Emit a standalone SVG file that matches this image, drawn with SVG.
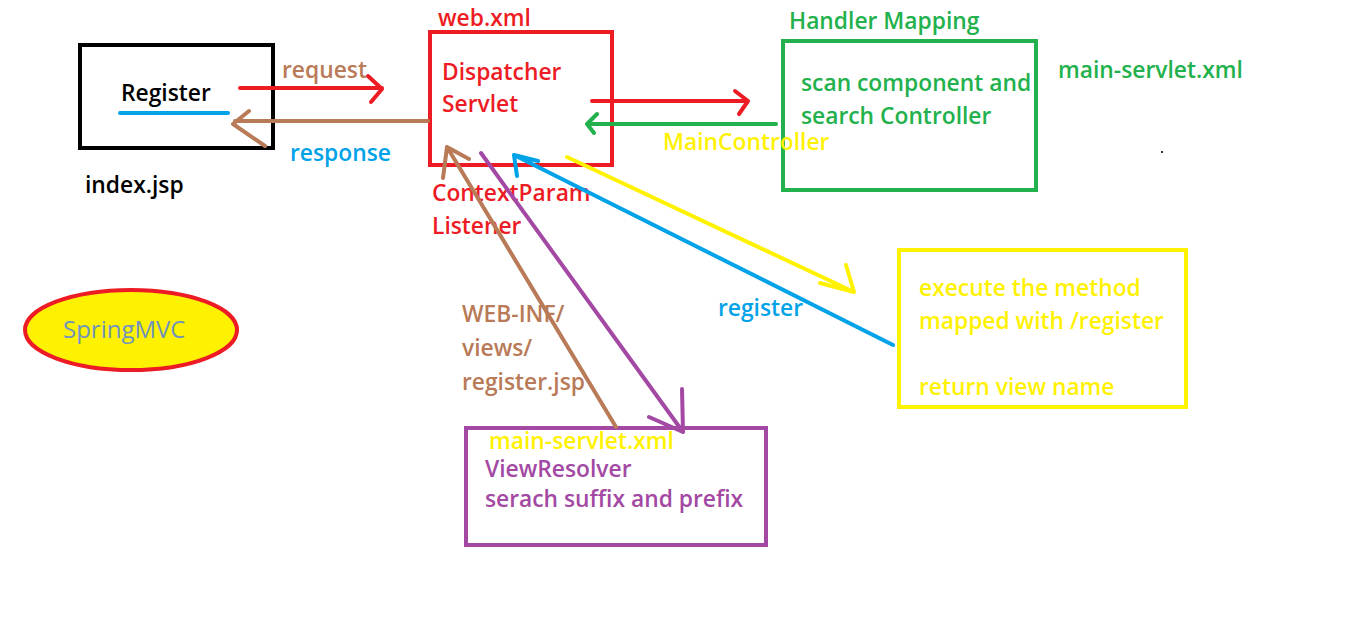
<svg xmlns="http://www.w3.org/2000/svg" width="1360" height="621" viewBox="0 0 1360 621">
<style>
text{font-family:"Open Sans","Noto Sans","DejaVu Sans",sans-serif;font-size:22.8px;font-weight:600}
.box{fill:none;stroke-width:4}
.ln{fill:none;stroke-width:4;stroke-linecap:round;stroke-linejoin:round}
.red{fill:#ed1c24}.grn{fill:#22b14c}.brn{fill:#b97a57}.blu{fill:#00a2e8}.yel{fill:#fff200}.pur{fill:#a349a4}.blk{fill:#000}
</style>
<rect width="1360" height="621" fill="#fff"/>
<g id="register-node">
<rect class="box" x="80" y="45" width="193" height="103" stroke="#000"/>
<text class="blk" x="121" y="101">Register</text>
<line x1="120" y1="113" x2="228" y2="113" stroke="#00a2e8" stroke-width="4" stroke-linecap="round"/>
<text class="blk" x="85" y="193">index.jsp</text>
</g>
<g id="dispatcher-node">
<rect class="box" x="430" y="32" width="182" height="133" stroke="#ed1c24"/>
<text class="red" x="438" y="26">web.xml</text>
<text class="red" x="442" y="80">Dispatcher</text>
<text class="red" x="442" y="112">Servlet</text>
</g>
<g id="handler-node">
<rect class="box" x="783" y="41" width="253" height="149" stroke="#22b14c"/>
<text class="grn" x="789" y="29">Handler Mapping</text>
<text class="grn" x="801" y="91">scan component and</text>
<text class="grn" x="801" y="124">search Controller</text>
<text class="grn" x="1058" y="78">main-servlet.xml</text>
<rect x="1161" y="151" width="2" height="2" fill="#333"/>
</g>
<g id="controller-node">
<rect class="box" x="899" y="250" width="287" height="157" stroke="#fff200"/>
<text class="yel" x="919" y="296">execute the method</text>
<text class="yel" x="919" y="329">mapped with /register</text>
<text class="yel" x="919" y="395">return view name</text>
</g>
<g id="viewresolver-node">
<rect class="box" x="466" y="428" width="300" height="117" stroke="#a349a4"/>
<text class="yel" x="489" y="449">main-servlet.xml</text>
<text class="pur" x="485" y="477">ViewResolver</text>
<text class="pur" x="485" y="507">serach suffix and prefix</text>
</g>
<g id="springmvc-node">
<ellipse cx="131" cy="330" rx="106" ry="40" fill="#fff200" stroke="#ed1c24" stroke-width="4"/>
<text x="63" y="338" fill="#7092be" style="font-size:24px;font-weight:400">SpringMVC</text>
</g>
<g id="connectors">
<path class="ln" stroke="#ed1c24" d="M240 88H382M368 76L382 89L371 102"/>
<text class="brn" x="282" y="78">request</text>
<path class="ln" stroke="#b97a57" d="M428 121H235M249 111L233 124L265 146"/>
<text class="blu" x="290" y="161">response</text>
<path class="ln" stroke="#ed1c24" d="M592 101H747M735 91L748 101L739 114"/>
<path class="ln" stroke="#22b14c" d="M776 124H588M597 114L587 124L594 133"/>
<text class="yel" x="663" y="150">MainController</text>
<text class="red" x="432" y="201">ContextParam</text>
<text class="red" x="432" y="234">Listener</text>
<path class="ln" stroke="#b97a57" d="M616 427L447 147M469 159L447 147L443 178"/>
<path class="ln" stroke="#a349a4" d="M481 153L683 432M682 389L683 432L649 417"/>
<path class="ln" stroke="#00a2e8" d="M893 345L514 155M517 176L514 155L538 161"/>
<path class="ln" stroke="#fff200" d="M567 157L854 292M846 265L854 292L820 283"/>
<text class="blu" x="718" y="316">register</text>
<text class="brn" x="462" y="322">WEB-INF/</text>
<text class="brn" x="462" y="356">views/</text>
<text class="brn" x="462" y="390">register.jsp</text>
</g>
</svg>
